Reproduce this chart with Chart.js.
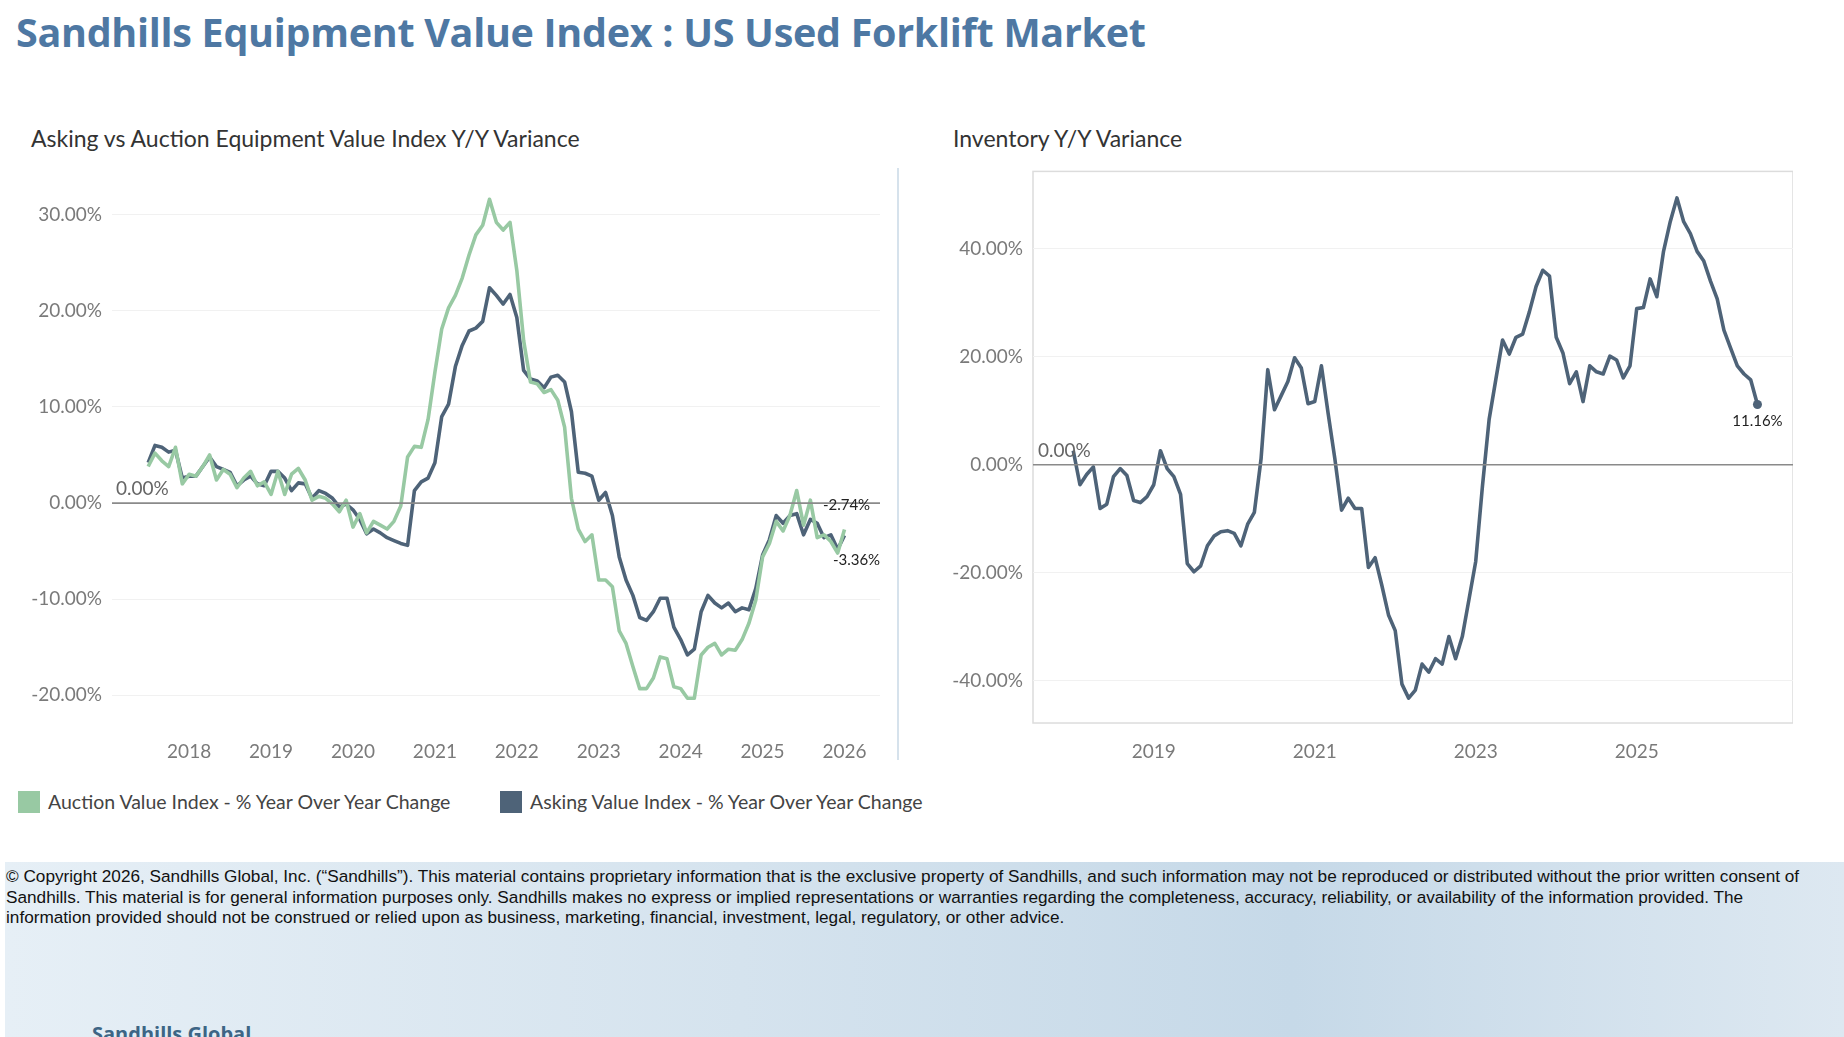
<!DOCTYPE html>
<html><head><meta charset="utf-8">
<script src="https://cdn.jsdelivr.net/npm/chart.js@4/dist/chart.umd.min.js"></script>
<style>
body{margin:0;width:1844px;height:1037px;overflow:hidden;background:#fff;font-family:Lato,"Open Sans",sans-serif;position:relative}
.abs{position:absolute}
#title{left:16px;top:5px;font:bold 39.5px "Open Sans",sans-serif;color:#4e78a3;letter-spacing:-0.3px}
.sub{top:124px;font-size:23px;color:#333}
#bg{left:5px;top:862px;width:1839px;height:175px;background:linear-gradient(90deg,#e6eff6 0%,#d5e3ee 40%,#c6d9e8 70%,#dde8f1 100%)}
#copy{left:6px;top:866px;width:1826px;font:17.2px "Liberation Sans",Arial,sans-serif;color:#111;line-height:20.5px}
.lg{top:790px;font-size:19.5px;color:#444}
.sq{display:inline-block;width:22px;height:22px;vertical-align:-4px;margin-right:8px}
</style></head><body>
<div id="bg" class="abs"></div>
<div id="title" class="abs">Sandhills Equipment Value Index : US Used Forklift Market</div>
<div class="abs sub" style="left:31px">Asking vs Auction Equipment Value Index Y/Y Variance</div>
<div class="abs sub" style="left:953px">Inventory Y/Y Variance</div>
<div class="abs" style="left:897px;top:168px;width:2px;height:592px;background:#d6e2ec"></div>
<div class="abs" style="left:0;top:150px;width:880px;height:620px"><canvas id="c1"></canvas></div>
<div class="abs" style="left:920px;top:150px;width:873px;height:614px"><canvas id="c2"></canvas></div>
<div class="abs lg" style="left:18px"><span class="sq" style="background:#98c9a3"></span>Auction Value Index - % Year Over Year Change</div>
<div class="abs lg" style="left:500px"><span class="sq" style="background:#4e6378"></span>Asking Value Index - % Year Over Year Change</div>
<div id="copy" class="abs">© Copyright 2026, Sandhills Global, Inc. (“Sandhills”). This material contains proprietary information that is the exclusive property of Sandhills, and such information may not be reproduced or distributed without the prior written consent of Sandhills. This material is for general information purposes only. Sandhills makes no express or implied representations or warranties regarding the completeness, accuracy, reliability, or availability of the information provided. The information provided should not be construed or relied upon as business, marketing, financial, investment, legal, regulatory, or other advice.</div>
<div class="abs" style="left:92px;top:1020px;font:bold 20px 'Open Sans',sans-serif;color:#3d6585">Sandhills Global</div>
<script>
const leftMonths = [];
for (let y=2017;y<=2026;y++) for (let m=1;m<=12;m++){ if((y===2017&&m<7)||(y===2026&&m>1)) continue; leftMonths.push(y+'-'+String(m).padStart(2,'0')); }
const rightMonths = [];
for (let y=2018;y<=2026;y++) for (let m=1;m<=12;m++){ if(y===2026&&m>7) continue; rightMonths.push(y+'-'+String(m).padStart(2,'0')); }
const leftYearTicks = ['2018','2019','2020','2021','2022','2023','2024','2025','2026'];
const rightYearTicks = ['2019','2021','2023','2025'];

const askingYoY = [4.2,6.0,5.8,5.3,5.5,2.6, 2.8,2.8,3.8,4.8,3.8,3.5,3.2,1.8,2.4,2.8,2.0,1.8,
 3.3,3.3,2.6,1.3,2.1,2.0,0.5,1.3,1.0,0.5,-0.4,-0.1,
 -0.7,-1.7,-3.2,-2.7,-3.1,-3.6,-3.9,-4.2,-4.4,1.3,2.2,2.6,
 4.2,9.0,10.3,14.2,16.4,17.9,18.2,18.9,22.4,21.6,20.7,21.7,
 19.3,13.8,12.9,12.7,12.0,13.1,13.3,12.6,9.5,3.2,3.1,2.8,
 0.3,1.1,-1.3,-5.6,-8.0,-9.6,-11.9,-12.2,-11.3,-9.9,-9.9,-12.9,
 -14.2,-15.8,-15.2,-11.3,-9.6,-10.4,-10.9,-10.4,-11.3,-10.9,-11.1,-8.9,
 -5.4,-3.8,-1.3,-2.1,-1.3,-1.1,-3.3,-1.7,-2.1,-3.6,-3.3,-4.8,-3.36];
const auctionYoY = [3.8,5.2,4.4,3.8,5.8,2.0, 3.0,2.8,3.8,5.0,2.4,3.5,3.0,1.6,2.6,3.3,1.8,2.2,
 0.9,3.3,0.9,3.0,3.6,2.4,0.3,0.7,0.5,-0.1,-0.9,0.3,
 -2.5,-1.1,-3.1,-1.9,-2.3,-2.7,-1.9,-0.3,4.8,5.9,5.8,8.7,
 13.6,18.1,20.3,21.6,23.4,25.8,27.9,28.9,31.6,29.2,28.4,29.2,
 24.2,16.9,12.6,12.4,11.5,11.8,10.7,7.9,0.5,-2.7,-4.0,-3.3,
 -8.0,-8.0,-8.7,-13.3,-14.6,-17.0,-19.3,-19.3,-18.2,-16.0,-16.2,-19.1,
 -19.3,-20.3,-20.3,-15.8,-15.0,-14.6,-15.8,-15.2,-15.3,-14.2,-12.5,-10.1,
 -5.6,-4.2,-1.9,-2.9,-1.3,1.3,-2.3,0.3,-3.6,-3.3,-4.0,-5.2,-2.74];
const inventoryYoY = [2.6,-3.7,-1.8,-0.4,-8.1,-7.3,-2.2,-0.7,-2.0,-6.6,-7.0,-5.9,
 -3.7,2.6,-0.7,-2.2,-5.5,-18.3,-19.8,-18.7,-15.0,-13.2,-12.4,-12.2,
 -12.7,-15.0,-11.0,-8.8,1.1,17.6,10.2,12.8,15.4,19.8,17.9,11.3,
 11.7,18.3,9.5,1.1,-8.4,-6.2,-8.1,-8.1,-19.0,-17.2,-22.3,-27.8,
 -30.7,-40.6,-43.2,-41.7,-36.9,-38.4,-35.9,-36.9,-31.8,-35.9,-31.8,-24.9,
 -17.9,-4.0,8.4,15.8,23.1,20.5,23.6,24.2,28.3,33.0,36.0,34.9,
 23.6,20.7,15.0,17.2,11.7,18.3,17.2,16.8,20.1,19.4,16.1,18.3,
 28.9,29.1,34.4,31.1,39.5,45.0,49.4,45.0,42.8,39.5,37.7,34.0,
 30.7,24.9,21.6,18.3,16.8,15.7,11.16];

const DARK='#4e6378', GREEN='#98c9a3', TICK='#7a7a7a';
function annot(labels,zx){ return {id:'annot',afterDatasetsDraw(ch){
  const c=ch.ctx,x=ch.scales.x,y=ch.scales.y,a=ch.chartArea;
  c.save();c.strokeStyle='#8a8a8a';c.lineWidth=1.6;c.beginPath();c.moveTo(a.left,y.getPixelForValue(0));c.lineTo(a.right,y.getPixelForValue(0));c.stroke();
  c.font='19px Lato';c.fillStyle='#666';c.fillText('0.00%',a.left+zx,y.getPixelForValue(0)-8);
  labels.forEach(l=>{const ds=ch.data.datasets[l.ds];const i=ds.data.length-1;const px=x.getPixelForValue(ds.data[i].x),py=y.getPixelForValue(ds.data[i].y);
    c.font='15px Lato';c.fillStyle='#222';c.textAlign='center';c.fillText(l.t,px+l.dx,py+l.dy);
    if(l.dot){c.beginPath();c.arc(px,py,4.5,0,7);c.fillStyle=ds.borderColor;c.fill();}});
  c.restore();}};}
function yOpts(min,max,step,yw){return {min,max,
  afterFit(s){s.width=yw;},
  afterBuildTicks(s){s.ticks=s.ticks.filter(t=>Math.abs(t.value/step-Math.round(t.value/step))<1e-6);},
  ticks:{stepSize:step,color:TICK,font:{size:19,family:'Lato'},padding:10,callback:v=>v.toFixed(2)+'%'},
  grid:{color:'#f1f1f1',drawTicks:false},border:{display:false}};}
function xOpts(labels,show,min,max,pad){return {type:'linear',min,max,
  afterFit(s){s.height=41;},
  afterBuildTicks(s){s.ticks=labels.map((l,i)=>({value:i,l})).filter(t=>t.l.endsWith('-01')&&show.includes(t.l.slice(0,4))).map(t=>({value:t.value}));},
  ticks:{autoSkip:false,maxRotation:0,color:TICK,font:{size:19,family:'Lato'},padding:pad,
    callback:v=>labels[v].slice(0,4)},
  grid:{display:false},border:{display:false}};}
function make(id,labels,series,ymin,ymax,step,yw,show,xmin,xmax,pad,ann,zx,border){
  const plugins=[annot(ann,zx)];
  if(border) plugins.push({id:'box',beforeDraw(ch){const a=ch.chartArea,c=ch.ctx;c.save();c.strokeStyle='#dcdcdc';c.lineWidth=1.5;c.strokeRect(a.left,a.top,a.right-a.left,a.bottom-a.top);c.restore();}});
  const datasets=series.map(s=>({borderColor:s.color,data:s.values.map((v,i)=>({x:i,y:v}))}));
  return new Chart(document.getElementById(id),{type:'line',data:{datasets},
    options:{responsive:true,maintainAspectRatio:false,animation:false,layout:{padding:0},
      plugins:{legend:{display:false},tooltip:{enabled:false}},
      elements:{point:{radius:0},line:{borderWidth:3.6,tension:0,borderJoinStyle:'round'}},
      scales:{x:xOpts(labels,show,xmin,xmax,pad),y:yOpts(ymin,ymax,step,yw)}},plugins});}
make('c1',leftMonths,[{values:auctionYoY,color:GREEN},{values:askingYoY,color:DARK}],
  -23.5,34.5,10,112,leftYearTicks,-5.3,107.2,3,
  [{ds:0,t:'-2.74%',dx:2,dy:-19},{ds:1,t:'-3.36%',dx:12,dy:30}],4,false);
make('c2',rightMonths,[{values:inventoryYoY,color:DARK}],
  -47.8,54.3,20,113,rightYearTicks,-6.0,107.3,9,
  [{ds:0,t:'11.16%',dx:0,dy:22,dot:true}],5,true);
</script></body></html>
